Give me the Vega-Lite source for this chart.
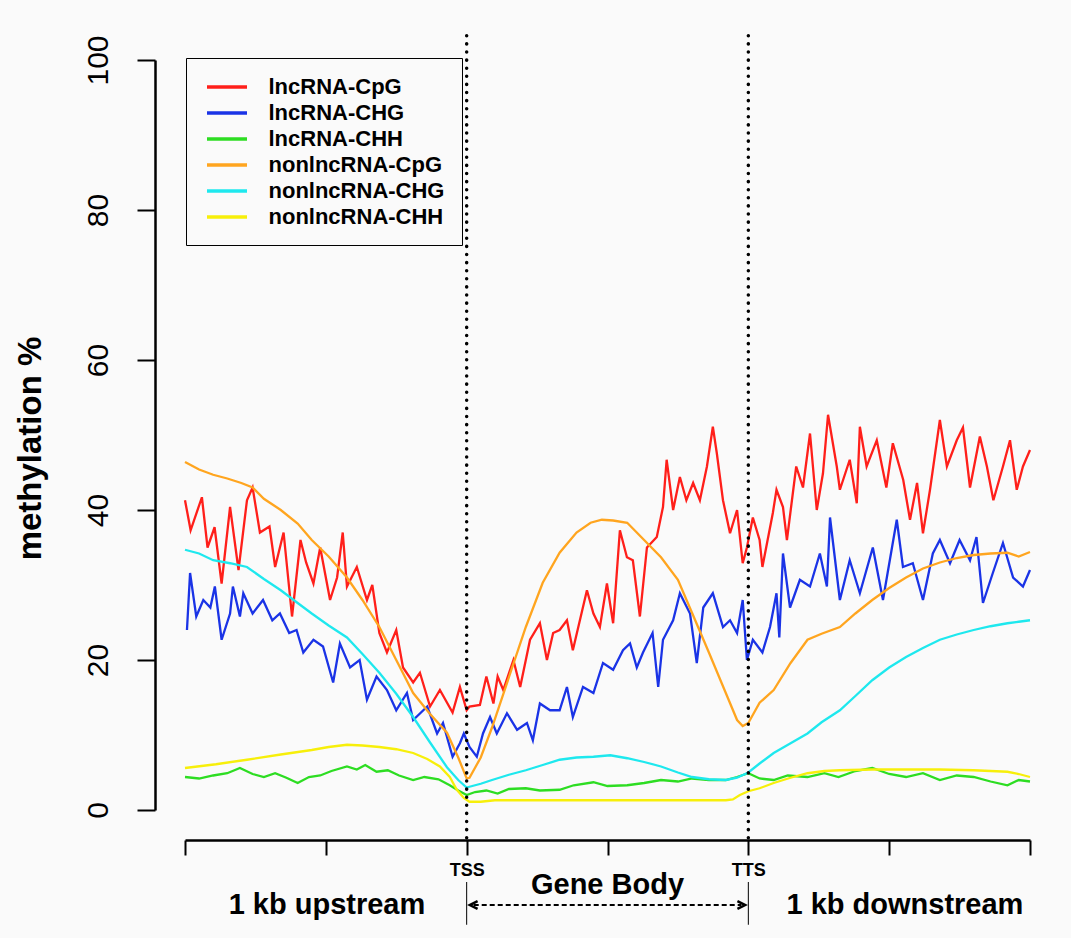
{
"$schema":"https://vega.github.io/schema/vega-lite/v6.json",
"width":845,"height":750,
"autosize":"none",
"padding":{"left":185,"top":60,"right":41,"bottom":128},
"background":"#fafafa",
"config":{"view":{"stroke":null},"font":"Liberation Sans"},
"datasets":{
"curves":[
{"s":"lncRNA-CpG","x":0,"y":41.3},{"s":"lncRNA-CpG","x":2,"y":37.3},{"s":"lncRNA-CpG","x":6,"y":41.7},{"s":"lncRNA-CpG","x":8,"y":35},{"s":"lncRNA-CpG","x":10.5,"y":37.7},{"s":"lncRNA-CpG","x":13,"y":30.2},{"s":"lncRNA-CpG","x":16,"y":40.4},{"s":"lncRNA-CpG","x":19,"y":32},{"s":"lncRNA-CpG","x":22,"y":41.3},{"s":"lncRNA-CpG","x":24,"y":43},{"s":"lncRNA-CpG","x":26.6,"y":37},{"s":"lncRNA-CpG","x":30,"y":37.8},{"s":"lncRNA-CpG","x":32,"y":32.4},{"s":"lncRNA-CpG","x":35,"y":37},{"s":"lncRNA-CpG","x":38,"y":25.8},{"s":"lncRNA-CpG","x":41,"y":36},{"s":"lncRNA-CpG","x":43,"y":33},{"s":"lncRNA-CpG","x":45.6,"y":30.2},{"s":"lncRNA-CpG","x":48,"y":35},{"s":"lncRNA-CpG","x":51.5,"y":28},{"s":"lncRNA-CpG","x":54,"y":31},{"s":"lncRNA-CpG","x":56,"y":37},{"s":"lncRNA-CpG","x":57.5,"y":29.8},{"s":"lncRNA-CpG","x":61,"y":32.4},{"s":"lncRNA-CpG","x":64.6,"y":28},{"s":"lncRNA-CpG","x":66.5,"y":30},{"s":"lncRNA-CpG","x":69,"y":23.6},{"s":"lncRNA-CpG","x":71.7,"y":21},{"s":"lncRNA-CpG","x":75,"y":24},{"s":"lncRNA-CpG","x":77.4,"y":19},{"s":"lncRNA-CpG","x":81,"y":17},{"s":"lncRNA-CpG","x":83.4,"y":18.3},{"s":"lncRNA-CpG","x":87,"y":13.8},{"s":"lncRNA-CpG","x":90.5,"y":16},{"s":"lncRNA-CpG","x":95,"y":13},{"s":"lncRNA-CpG","x":97.6,"y":16.4},{"s":"lncRNA-CpG","x":100,"y":13.3},{"s":"lncRNA-CpG","x":101,"y":13.8},{"s":"lncRNA-CpG","x":104.7,"y":14},{"s":"lncRNA-CpG","x":107,"y":17.8},{"s":"lncRNA-CpG","x":109.5,"y":14.2},{"s":"lncRNA-CpG","x":111,"y":17.8},{"s":"lncRNA-CpG","x":113,"y":16},{"s":"lncRNA-CpG","x":116.6,"y":20},{"s":"lncRNA-CpG","x":119,"y":16.4},{"s":"lncRNA-CpG","x":122.5,"y":22.7},{"s":"lncRNA-CpG","x":126,"y":24.9},{"s":"lncRNA-CpG","x":128.5,"y":20},{"s":"lncRNA-CpG","x":130.7,"y":23.6},{"s":"lncRNA-CpG","x":133,"y":24},{"s":"lncRNA-CpG","x":135.6,"y":25.3},{"s":"lncRNA-CpG","x":137.7,"y":21.3},{"s":"lncRNA-CpG","x":142.7,"y":29.3},{"s":"lncRNA-CpG","x":145,"y":26.2},{"s":"lncRNA-CpG","x":147.3,"y":24.4},{"s":"lncRNA-CpG","x":149.8,"y":30.2},{"s":"lncRNA-CpG","x":152,"y":24.9},{"s":"lncRNA-CpG","x":154.4,"y":37.3},{"s":"lncRNA-CpG","x":156.9,"y":33.7},{"s":"lncRNA-CpG","x":159,"y":33.3},{"s":"lncRNA-CpG","x":161.5,"y":25.8},{"s":"lncRNA-CpG","x":164,"y":35},{"s":"lncRNA-CpG","x":167.5,"y":36.4},{"s":"lncRNA-CpG","x":169.7,"y":40.4},{"s":"lncRNA-CpG","x":171,"y":46.7},{"s":"lncRNA-CpG","x":173.3,"y":40},{"s":"lncRNA-CpG","x":175.7,"y":44.4},{"s":"lncRNA-CpG","x":178,"y":41.3},{"s":"lncRNA-CpG","x":180.4,"y":43.6},{"s":"lncRNA-CpG","x":182.8,"y":41.3},{"s":"lncRNA-CpG","x":185.3,"y":45.8},{"s":"lncRNA-CpG","x":187.4,"y":51.1},{"s":"lncRNA-CpG","x":188.8,"y":47.6},{"s":"lncRNA-CpG","x":191,"y":41.3},{"s":"lncRNA-CpG","x":193.5,"y":36.9},{"s":"lncRNA-CpG","x":196,"y":40},{"s":"lncRNA-CpG","x":198,"y":32.9},{"s":"lncRNA-CpG","x":199.5,"y":35},{"s":"lncRNA-CpG","x":201.6,"y":39},{"s":"lncRNA-CpG","x":204,"y":36},{"s":"lncRNA-CpG","x":205,"y":32.4},{"s":"lncRNA-CpG","x":208.7,"y":39.6},{"s":"lncRNA-CpG","x":210,"y":42.7},{"s":"lncRNA-CpG","x":212.3,"y":40.4},{"s":"lncRNA-CpG","x":213.7,"y":36},{"s":"lncRNA-CpG","x":217,"y":45.8},{"s":"lncRNA-CpG","x":219.4,"y":43},{"s":"lncRNA-CpG","x":221.9,"y":50.2},{"s":"lncRNA-CpG","x":224.3,"y":40},{"s":"lncRNA-CpG","x":226.5,"y":44.9},{"s":"lncRNA-CpG","x":228.3,"y":52.7},{"s":"lncRNA-CpG","x":231.4,"y":45.8},{"s":"lncRNA-CpG","x":232.5,"y":42.7},{"s":"lncRNA-CpG","x":236,"y":46.7},{"s":"lncRNA-CpG","x":238.5,"y":40.9},{"s":"lncRNA-CpG","x":239.6,"y":51.1},{"s":"lncRNA-CpG","x":242,"y":45.8},{"s":"lncRNA-CpG","x":245.6,"y":49.3},{"s":"lncRNA-CpG","x":249,"y":43},{"s":"lncRNA-CpG","x":251.3,"y":48.9},{"s":"lncRNA-CpG","x":255,"y":44},{"s":"lncRNA-CpG","x":257.4,"y":38.7},{"s":"lncRNA-CpG","x":259.9,"y":43.6},{"s":"lncRNA-CpG","x":262,"y":36.9},{"s":"lncRNA-CpG","x":264.5,"y":42.7},{"s":"lncRNA-CpG","x":268,"y":52},{"s":"lncRNA-CpG","x":270.5,"y":45.8},{"s":"lncRNA-CpG","x":274,"y":49.3},{"s":"lncRNA-CpG","x":276.2,"y":51},{"s":"lncRNA-CpG","x":278.7,"y":43},{"s":"lncRNA-CpG","x":282.2,"y":49.8},{"s":"lncRNA-CpG","x":284.7,"y":45.8},{"s":"lncRNA-CpG","x":287,"y":41.3},{"s":"lncRNA-CpG","x":290.4,"y":45.8},{"s":"lncRNA-CpG","x":292.9,"y":49.3},{"s":"lncRNA-CpG","x":295.3,"y":42.7},{"s":"lncRNA-CpG","x":297.5,"y":45.8},{"s":"lncRNA-CpG","x":300,"y":48},
{"s":"lncRNA-CHG","x":0.7,"y":24},{"s":"lncRNA-CHG","x":1.8,"y":31.6},{"s":"lncRNA-CHG","x":4,"y":25.8},{"s":"lncRNA-CHG","x":6.5,"y":28},{"s":"lncRNA-CHG","x":9,"y":27},{"s":"lncRNA-CHG","x":10.6,"y":29.8},{"s":"lncRNA-CHG","x":13,"y":22.7},{"s":"lncRNA-CHG","x":16,"y":26.2},{"s":"lncRNA-CHG","x":17,"y":29.8},{"s":"lncRNA-CHG","x":19.5,"y":25.8},{"s":"lncRNA-CHG","x":20.7,"y":28.9},{"s":"lncRNA-CHG","x":24,"y":26.2},{"s":"lncRNA-CHG","x":27.7,"y":28},{"s":"lncRNA-CHG","x":31,"y":25.3},{"s":"lncRNA-CHG","x":33.7,"y":26.2},{"s":"lncRNA-CHG","x":37,"y":23.6},{"s":"lncRNA-CHG","x":39.6,"y":24},{"s":"lncRNA-CHG","x":42,"y":21},{"s":"lncRNA-CHG","x":45.6,"y":22.7},{"s":"lncRNA-CHG","x":49,"y":21.8},{"s":"lncRNA-CHG","x":52.6,"y":17},{"s":"lncRNA-CHG","x":55,"y":22.2},{"s":"lncRNA-CHG","x":58.6,"y":19},{"s":"lncRNA-CHG","x":62,"y":20},{"s":"lncRNA-CHG","x":64.6,"y":14.7},{"s":"lncRNA-CHG","x":68,"y":17.8},{"s":"lncRNA-CHG","x":71.7,"y":16},{"s":"lncRNA-CHG","x":75,"y":13.3},{"s":"lncRNA-CHG","x":78.8,"y":15.6},{"s":"lncRNA-CHG","x":81,"y":12},{"s":"lncRNA-CHG","x":86,"y":13.8},{"s":"lncRNA-CHG","x":89.5,"y":10.2},{"s":"lncRNA-CHG","x":91.6,"y":11.6},{"s":"lncRNA-CHG","x":95,"y":7.1},{"s":"lncRNA-CHG","x":97.6,"y":8.9},{"s":"lncRNA-CHG","x":99,"y":10.2},{"s":"lncRNA-CHG","x":101,"y":8.4},{"s":"lncRNA-CHG","x":103.6,"y":7.1},{"s":"lncRNA-CHG","x":105.8,"y":10.2},{"s":"lncRNA-CHG","x":108.3,"y":12.4},{"s":"lncRNA-CHG","x":110.7,"y":10.2},{"s":"lncRNA-CHG","x":114.3,"y":12.9},{"s":"lncRNA-CHG","x":117.9,"y":10.7},{"s":"lncRNA-CHG","x":121.4,"y":11.6},{"s":"lncRNA-CHG","x":123.5,"y":9.3},{"s":"lncRNA-CHG","x":126,"y":14.2},{"s":"lncRNA-CHG","x":129.6,"y":13.3},{"s":"lncRNA-CHG","x":133,"y":13.3},{"s":"lncRNA-CHG","x":135.6,"y":16.4},{"s":"lncRNA-CHG","x":137.7,"y":12.4},{"s":"lncRNA-CHG","x":141.3,"y":16.4},{"s":"lncRNA-CHG","x":145,"y":15.6},{"s":"lncRNA-CHG","x":148.4,"y":19.6},{"s":"lncRNA-CHG","x":152,"y":18.7},{"s":"lncRNA-CHG","x":155.5,"y":21.3},{"s":"lncRNA-CHG","x":158,"y":22.2},{"s":"lncRNA-CHG","x":160.4,"y":19},{"s":"lncRNA-CHG","x":162.6,"y":21},{"s":"lncRNA-CHG","x":166,"y":23.6},{"s":"lncRNA-CHG","x":168,"y":16.4},{"s":"lncRNA-CHG","x":169.7,"y":22.7},{"s":"lncRNA-CHG","x":173.3,"y":25.3},{"s":"lncRNA-CHG","x":175.7,"y":28.9},{"s":"lncRNA-CHG","x":179.3,"y":26.2},{"s":"lncRNA-CHG","x":181.7,"y":19.6},{"s":"lncRNA-CHG","x":184,"y":27},{"s":"lncRNA-CHG","x":187.4,"y":28.9},{"s":"lncRNA-CHG","x":191,"y":24.4},{"s":"lncRNA-CHG","x":193.5,"y":25.3},{"s":"lncRNA-CHG","x":196,"y":23.6},{"s":"lncRNA-CHG","x":198,"y":28},{"s":"lncRNA-CHG","x":199.5,"y":20},{"s":"lncRNA-CHG","x":201.6,"y":22.7},{"s":"lncRNA-CHG","x":205,"y":21},{"s":"lncRNA-CHG","x":207.7,"y":24.4},{"s":"lncRNA-CHG","x":210,"y":28.9},{"s":"lncRNA-CHG","x":211,"y":23},{"s":"lncRNA-CHG","x":212.3,"y":34.2},{"s":"lncRNA-CHG","x":214.8,"y":27},{"s":"lncRNA-CHG","x":218.3,"y":30.7},{"s":"lncRNA-CHG","x":221.9,"y":29.8},{"s":"lncRNA-CHG","x":225.4,"y":34.2},{"s":"lncRNA-CHG","x":227.9,"y":29.8},{"s":"lncRNA-CHG","x":229,"y":39},{"s":"lncRNA-CHG","x":232.5,"y":28},{"s":"lncRNA-CHG","x":236,"y":33.3},{"s":"lncRNA-CHG","x":239.6,"y":28.9},{"s":"lncRNA-CHG","x":244.2,"y":35},{"s":"lncRNA-CHG","x":247.8,"y":28},{"s":"lncRNA-CHG","x":252.7,"y":38.7},{"s":"lncRNA-CHG","x":254.9,"y":32.4},{"s":"lncRNA-CHG","x":258.4,"y":32.9},{"s":"lncRNA-CHG","x":262,"y":28},{"s":"lncRNA-CHG","x":265.5,"y":34.2},{"s":"lncRNA-CHG","x":268,"y":36},{"s":"lncRNA-CHG","x":271.6,"y":32.9},{"s":"lncRNA-CHG","x":275,"y":36},{"s":"lncRNA-CHG","x":278.7,"y":33.3},{"s":"lncRNA-CHG","x":281,"y":36.4},{"s":"lncRNA-CHG","x":283.3,"y":27.6},{"s":"lncRNA-CHG","x":286.8,"y":31.6},{"s":"lncRNA-CHG","x":290.4,"y":35.6},{"s":"lncRNA-CHG","x":294,"y":31},{"s":"lncRNA-CHG","x":297.5,"y":29.8},{"s":"lncRNA-CHG","x":300,"y":32},
{"s":"lncRNA-CHH","x":0,"y":4.4},{"s":"lncRNA-CHH","x":5,"y":4.2},{"s":"lncRNA-CHH","x":10,"y":4.6},{"s":"lncRNA-CHH","x":15,"y":4.9},{"s":"lncRNA-CHH","x":19.5,"y":5.6},{"s":"lncRNA-CHH","x":24,"y":4.8},{"s":"lncRNA-CHH","x":28,"y":4.4},{"s":"lncRNA-CHH","x":32,"y":4.9},{"s":"lncRNA-CHH","x":36,"y":4.3},{"s":"lncRNA-CHH","x":40,"y":3.6},{"s":"lncRNA-CHH","x":44,"y":4.4},{"s":"lncRNA-CHH","x":48,"y":4.6},{"s":"lncRNA-CHH","x":52,"y":5.2},{"s":"lncRNA-CHH","x":57.5,"y":5.8},{"s":"lncRNA-CHH","x":61,"y":5.4},{"s":"lncRNA-CHH","x":64,"y":6},{"s":"lncRNA-CHH","x":68,"y":5.1},{"s":"lncRNA-CHH","x":72,"y":5.3},{"s":"lncRNA-CHH","x":76,"y":4.6},{"s":"lncRNA-CHH","x":81,"y":4},{"s":"lncRNA-CHH","x":85,"y":4.4},{"s":"lncRNA-CHH","x":90,"y":4.1},{"s":"lncRNA-CHH","x":94,"y":3.3},{"s":"lncRNA-CHH","x":97,"y":2.6},{"s":"lncRNA-CHH","x":100,"y":2},{"s":"lncRNA-CHH","x":103,"y":2.4},{"s":"lncRNA-CHH","x":107,"y":2.6},{"s":"lncRNA-CHH","x":111,"y":2.2},{"s":"lncRNA-CHH","x":115,"y":2.8},{"s":"lncRNA-CHH","x":121,"y":2.9},{"s":"lncRNA-CHH","x":126,"y":2.6},{"s":"lncRNA-CHH","x":133,"y":2.7},{"s":"lncRNA-CHH","x":138,"y":3.3},{"s":"lncRNA-CHH","x":145,"y":3.7},{"s":"lncRNA-CHH","x":150,"y":3.2},{"s":"lncRNA-CHH","x":157,"y":3.3},{"s":"lncRNA-CHH","x":163,"y":3.6},{"s":"lncRNA-CHH","x":169,"y":4},{"s":"lncRNA-CHH","x":175,"y":3.8},{"s":"lncRNA-CHH","x":180,"y":4.2},{"s":"lncRNA-CHH","x":186,"y":4},{"s":"lncRNA-CHH","x":192,"y":4},{"s":"lncRNA-CHH","x":196,"y":4.4},{"s":"lncRNA-CHH","x":200,"y":4.9},{"s":"lncRNA-CHH","x":204,"y":4.2},{"s":"lncRNA-CHH","x":209,"y":4},{"s":"lncRNA-CHH","x":214,"y":4.6},{"s":"lncRNA-CHH","x":221,"y":4.4},{"s":"lncRNA-CHH","x":227,"y":4.9},{"s":"lncRNA-CHH","x":232,"y":4.4},{"s":"lncRNA-CHH","x":238,"y":5.2},{"s":"lncRNA-CHH","x":244,"y":5.6},{"s":"lncRNA-CHH","x":250,"y":4.8},{"s":"lncRNA-CHH","x":256,"y":4.4},{"s":"lncRNA-CHH","x":262,"y":4.9},{"s":"lncRNA-CHH","x":268,"y":4},{"s":"lncRNA-CHH","x":274,"y":4.6},{"s":"lncRNA-CHH","x":280,"y":4.4},{"s":"lncRNA-CHH","x":286,"y":3.8},{"s":"lncRNA-CHH","x":292,"y":3.3},{"s":"lncRNA-CHH","x":296,"y":4},{"s":"lncRNA-CHH","x":300,"y":3.8},
{"s":"nonlncRNA-CpG","x":0,"y":46.4},{"s":"nonlncRNA-CpG","x":5,"y":45.4},{"s":"nonlncRNA-CpG","x":10,"y":44.7},{"s":"nonlncRNA-CpG","x":15,"y":44.2},{"s":"nonlncRNA-CpG","x":20,"y":43.6},{"s":"nonlncRNA-CpG","x":24,"y":43},{"s":"nonlncRNA-CpG","x":28,"y":41.5},{"s":"nonlncRNA-CpG","x":34,"y":40},{"s":"nonlncRNA-CpG","x":40,"y":38.2},{"s":"nonlncRNA-CpG","x":45,"y":36},{"s":"nonlncRNA-CpG","x":51,"y":33.8},{"s":"nonlncRNA-CpG","x":57.5,"y":31},{"s":"nonlncRNA-CpG","x":63,"y":28},{"s":"nonlncRNA-CpG","x":69,"y":24.4},{"s":"nonlncRNA-CpG","x":75,"y":20},{"s":"nonlncRNA-CpG","x":81,"y":15.6},{"s":"nonlncRNA-CpG","x":87,"y":12.8},{"s":"nonlncRNA-CpG","x":93,"y":10.3},{"s":"nonlncRNA-CpG","x":97,"y":7},{"s":"nonlncRNA-CpG","x":100,"y":4.2},{"s":"nonlncRNA-CpG","x":101,"y":4.3},{"s":"nonlncRNA-CpG","x":105,"y":7},{"s":"nonlncRNA-CpG","x":109,"y":11},{"s":"nonlncRNA-CpG","x":115,"y":17.7},{"s":"nonlncRNA-CpG","x":121,"y":24.4},{"s":"nonlncRNA-CpG","x":127,"y":30.3},{"s":"nonlncRNA-CpG","x":133,"y":34.3},{"s":"nonlncRNA-CpG","x":139,"y":37},{"s":"nonlncRNA-CpG","x":144,"y":38.3},{"s":"nonlncRNA-CpG","x":148,"y":38.7},{"s":"nonlncRNA-CpG","x":152,"y":38.6},{"s":"nonlncRNA-CpG","x":157,"y":38.3},{"s":"nonlncRNA-CpG","x":163,"y":36},{"s":"nonlncRNA-CpG","x":169,"y":33.7},{"s":"nonlncRNA-CpG","x":175,"y":30.7},{"s":"nonlncRNA-CpG","x":180,"y":26.3},{"s":"nonlncRNA-CpG","x":186,"y":21},{"s":"nonlncRNA-CpG","x":192,"y":15.6},{"s":"nonlncRNA-CpG","x":196,"y":12},{"s":"nonlncRNA-CpG","x":198,"y":11.2},{"s":"nonlncRNA-CpG","x":200,"y":11.6},{"s":"nonlncRNA-CpG","x":204,"y":14.3},{"s":"nonlncRNA-CpG","x":209,"y":16},{"s":"nonlncRNA-CpG","x":215,"y":19.6},{"s":"nonlncRNA-CpG","x":221,"y":22.7},{"s":"nonlncRNA-CpG","x":226,"y":23.5},{"s":"nonlncRNA-CpG","x":232.5,"y":24.4},{"s":"nonlncRNA-CpG","x":238,"y":26.2},{"s":"nonlncRNA-CpG","x":244,"y":28},{"s":"nonlncRNA-CpG","x":250,"y":29.6},{"s":"nonlncRNA-CpG","x":256,"y":31},{"s":"nonlncRNA-CpG","x":262,"y":32.2},{"s":"nonlncRNA-CpG","x":268,"y":33},{"s":"nonlncRNA-CpG","x":274,"y":33.6},{"s":"nonlncRNA-CpG","x":280,"y":34},{"s":"nonlncRNA-CpG","x":286,"y":34.2},{"s":"nonlncRNA-CpG","x":292,"y":34.3},{"s":"nonlncRNA-CpG","x":296,"y":33.8},{"s":"nonlncRNA-CpG","x":300,"y":34.4},
{"s":"nonlncRNA-CHG","x":0,"y":34.7},{"s":"nonlncRNA-CHG","x":5,"y":34.2},{"s":"nonlncRNA-CHG","x":10,"y":33.3},{"s":"nonlncRNA-CHG","x":16,"y":32.9},{"s":"nonlncRNA-CHG","x":22,"y":32.4},{"s":"nonlncRNA-CHG","x":28,"y":30.8},{"s":"nonlncRNA-CHG","x":34,"y":29.3},{"s":"nonlncRNA-CHG","x":40,"y":27.6},{"s":"nonlncRNA-CHG","x":45,"y":26.2},{"s":"nonlncRNA-CHG","x":51,"y":24.6},{"s":"nonlncRNA-CHG","x":57.5,"y":23},{"s":"nonlncRNA-CHG","x":63,"y":20.8},{"s":"nonlncRNA-CHG","x":69,"y":18.3},{"s":"nonlncRNA-CHG","x":75,"y":15.5},{"s":"nonlncRNA-CHG","x":81,"y":12.4},{"s":"nonlncRNA-CHG","x":87,"y":9},{"s":"nonlncRNA-CHG","x":93,"y":5.7},{"s":"nonlncRNA-CHG","x":97,"y":4},{"s":"nonlncRNA-CHG","x":100,"y":3},{"s":"nonlncRNA-CHG","x":101,"y":3.1},{"s":"nonlncRNA-CHG","x":105,"y":3.5},{"s":"nonlncRNA-CHG","x":109,"y":4},{"s":"nonlncRNA-CHG","x":115,"y":4.7},{"s":"nonlncRNA-CHG","x":121,"y":5.3},{"s":"nonlncRNA-CHG","x":127,"y":6},{"s":"nonlncRNA-CHG","x":133,"y":6.7},{"s":"nonlncRNA-CHG","x":139,"y":7},{"s":"nonlncRNA-CHG","x":145,"y":7.1},{"s":"nonlncRNA-CHG","x":151,"y":7.3},{"s":"nonlncRNA-CHG","x":157,"y":6.9},{"s":"nonlncRNA-CHG","x":163,"y":6.4},{"s":"nonlncRNA-CHG","x":169,"y":5.8},{"s":"nonlncRNA-CHG","x":175,"y":5},{"s":"nonlncRNA-CHG","x":180,"y":4.4},{"s":"nonlncRNA-CHG","x":186,"y":4.1},{"s":"nonlncRNA-CHG","x":192,"y":4},{"s":"nonlncRNA-CHG","x":196,"y":4.3},{"s":"nonlncRNA-CHG","x":200,"y":5},{"s":"nonlncRNA-CHG","x":204,"y":6.2},{"s":"nonlncRNA-CHG","x":209,"y":7.6},{"s":"nonlncRNA-CHG","x":215,"y":8.9},{"s":"nonlncRNA-CHG","x":221,"y":10.2},{"s":"nonlncRNA-CHG","x":226,"y":11.7},{"s":"nonlncRNA-CHG","x":232.5,"y":13.3},{"s":"nonlncRNA-CHG","x":238,"y":15.2},{"s":"nonlncRNA-CHG","x":244,"y":17.3},{"s":"nonlncRNA-CHG","x":250,"y":19},{"s":"nonlncRNA-CHG","x":256,"y":20.4},{"s":"nonlncRNA-CHG","x":262,"y":21.6},{"s":"nonlncRNA-CHG","x":268,"y":22.7},{"s":"nonlncRNA-CHG","x":274,"y":23.4},{"s":"nonlncRNA-CHG","x":280,"y":24},{"s":"nonlncRNA-CHG","x":286,"y":24.5},{"s":"nonlncRNA-CHG","x":292,"y":24.9},{"s":"nonlncRNA-CHG","x":296,"y":25.1},{"s":"nonlncRNA-CHG","x":300,"y":25.3},
{"s":"nonlncRNA-CHH","x":0,"y":5.6},{"s":"nonlncRNA-CHH","x":11,"y":6.1},{"s":"nonlncRNA-CHH","x":22,"y":6.7},{"s":"nonlncRNA-CHH","x":34,"y":7.4},{"s":"nonlncRNA-CHH","x":45,"y":8},{"s":"nonlncRNA-CHH","x":51,"y":8.4},{"s":"nonlncRNA-CHH","x":57.5,"y":8.7},{"s":"nonlncRNA-CHH","x":63,"y":8.6},{"s":"nonlncRNA-CHH","x":69,"y":8.4},{"s":"nonlncRNA-CHH","x":75,"y":8.1},{"s":"nonlncRNA-CHH","x":81,"y":7.6},{"s":"nonlncRNA-CHH","x":86,"y":6.8},{"s":"nonlncRNA-CHH","x":90.5,"y":5.8},{"s":"nonlncRNA-CHH","x":94,"y":4.4},{"s":"nonlncRNA-CHH","x":96.5,"y":2.7},{"s":"nonlncRNA-CHH","x":99,"y":1.6},{"s":"nonlncRNA-CHH","x":101,"y":1.1},{"s":"nonlncRNA-CHH","x":105,"y":1.1},{"s":"nonlncRNA-CHH","x":110,"y":1.3},{"s":"nonlncRNA-CHH","x":150,"y":1.3},{"s":"nonlncRNA-CHH","x":192,"y":1.3},{"s":"nonlncRNA-CHH","x":194.5,"y":1.4},{"s":"nonlncRNA-CHH","x":197,"y":2},{"s":"nonlncRNA-CHH","x":200,"y":2.5},{"s":"nonlncRNA-CHH","x":204,"y":2.9},{"s":"nonlncRNA-CHH","x":209,"y":3.6},{"s":"nonlncRNA-CHH","x":215,"y":4.3},{"s":"nonlncRNA-CHH","x":221,"y":4.9},{"s":"nonlncRNA-CHH","x":227,"y":5.2},{"s":"nonlncRNA-CHH","x":232.5,"y":5.3},{"s":"nonlncRNA-CHH","x":244,"y":5.4},{"s":"nonlncRNA-CHH","x":256,"y":5.4},{"s":"nonlncRNA-CHH","x":268,"y":5.4},{"s":"nonlncRNA-CHH","x":280,"y":5.3},{"s":"nonlncRNA-CHH","x":292,"y":5.1},{"s":"nonlncRNA-CHH","x":296,"y":4.8},{"s":"nonlncRNA-CHH","x":300,"y":4.4}
],
"marks":[{"x":100,"y":-3.7,"y2":103.7},{"x":200,"y":-3.7,"y2":103.7}],
"ticks":[{"x":100,"y":-9.6,"y2":-15.3},{"x":200,"y":-9.6,"y2":-15.3}],
"arrow":[{"x":102.5,"x2":197.5,"y":-12.67}],
"heads":[{"x":102.5,"y":-12.67,"d":"left"},{"x":197.5,"y":-12.67,"d":"right"}],
"labels":[{"t":"Gene Body","x":150,"y":-10},{"t":"1 kb upstream","x":50.4,"y":-12.67},{"t":"1 kb downstream","x":255.6,"y":-12.67}]
},
"layer":[
{"data":{"name":"curves"},
 "mark":{"type":"line","strokeWidth":2.3,"interpolate":"linear"},
 "encoding":{
  "x":{"field":"x","type":"quantitative","scale":{"domain":[0,300],"nice":false,"zero":false},
   "axis":{"offset":30,"values":[0,50,100,150,200,250,300],"labelExpr":"datum.value==100?'TSS':datum.value==200?'TTS':''","title":null,"grid":false,"domainColor":"black","domainWidth":2.5,"tickColor":"black","tickWidth":2,"tickSize":15,"labelFont":"Liberation Sans","labelFontWeight":"bold","labelFontSize":18,"labelColor":"black","labelPadding":6,"labelOverlap":false,"labelFlush":false}},
  "y":{"field":"y","type":"quantitative","scale":{"domain":[0,100],"nice":false},
   "axis":{"offset":30,"values":[0,20,40,60,80,100],"title":"methylation %","titleFont":"Liberation Sans","titleFontSize":33,"titleFontWeight":"bold","titleColor":"black","titleX":-125,"titleY":388,"titleAngle":-90,"titleAlign":"center","titleBaseline":"middle","grid":false,"domainColor":"black","domainWidth":2.5,"tickColor":"black","tickWidth":2,"tickSize":18,"labelAngle":-90,"labelAlign":"center","labelBaseline":"alphabetic","labelPadding":30,"labelFont":"Liberation Sans","labelFontSize":30,"labelColor":"black"}},
  "color":{"field":"s","type":"nominal","sort":null,
   "scale":{"domain":["lncRNA-CpG","lncRNA-CHG","lncRNA-CHH","nonlncRNA-CpG","nonlncRNA-CHG","nonlncRNA-CHH"],"range":["#ff1f1a","#1a33e6","#2ddd22","#ffa51f","#1ee8ee","#f7ef0a"]},
   "legend":{"orient":"none","legendX":1,"legendY":-2,"title":null,"strokeColor":"black","fillColor":"#fafafa","padding":17,"symbolOffset":12,"symbolType":"M-2,0H2","symbolSize":400,"symbolStrokeWidth":3.5,"labelFont":"Liberation Sans","labelFontWeight":"bold","labelFontSize":22,"labelColor":"black","labelOffset":29.5,"labelLimit":0,"rowPadding":3}}
 }},
{"data":{"name":"marks"},"mark":{"type":"rule","color":"black","strokeWidth":3.5,"strokeCap":"round","strokeDash":[0.1,8]},
 "encoding":{"x":{"field":"x","type":"quantitative"},"y":{"field":"y","type":"quantitative"},"y2":{"field":"y2"}}},
{"data":{"name":"ticks"},"mark":{"type":"rule","color":"black","strokeWidth":1},
 "encoding":{"x":{"field":"x","type":"quantitative"},"y":{"field":"y","type":"quantitative"},"y2":{"field":"y2"}}},
{"data":{"name":"arrow"},"mark":{"type":"rule","color":"black","strokeWidth":2,"strokeDash":[5,3]},
 "encoding":{"x":{"field":"x","type":"quantitative"},"x2":{"field":"x2"},"y":{"field":"y","type":"quantitative"}}},
{"data":{"name":"heads"},"mark":{"type":"point","filled":false,"color":"black","strokeWidth":2.5,"size":60,"opacity":1},
 "encoding":{"x":{"field":"x","type":"quantitative"},"y":{"field":"y","type":"quantitative"},
  "shape":{"field":"d","type":"nominal","scale":{"domain":["left","right"],"range":["M1,-1L-1,0L1,1","M-1,-1L1,0L-1,1"]},"legend":null}}},
{"data":{"name":"labels"},"mark":{"type":"text","font":"Liberation Sans","fontWeight":"bold","fontSize":29,"color":"black","baseline":"middle","align":"center"},
 "encoding":{"x":{"field":"x","type":"quantitative"},"y":{"field":"y","type":"quantitative"},"text":{"field":"t"}}}
]
}
